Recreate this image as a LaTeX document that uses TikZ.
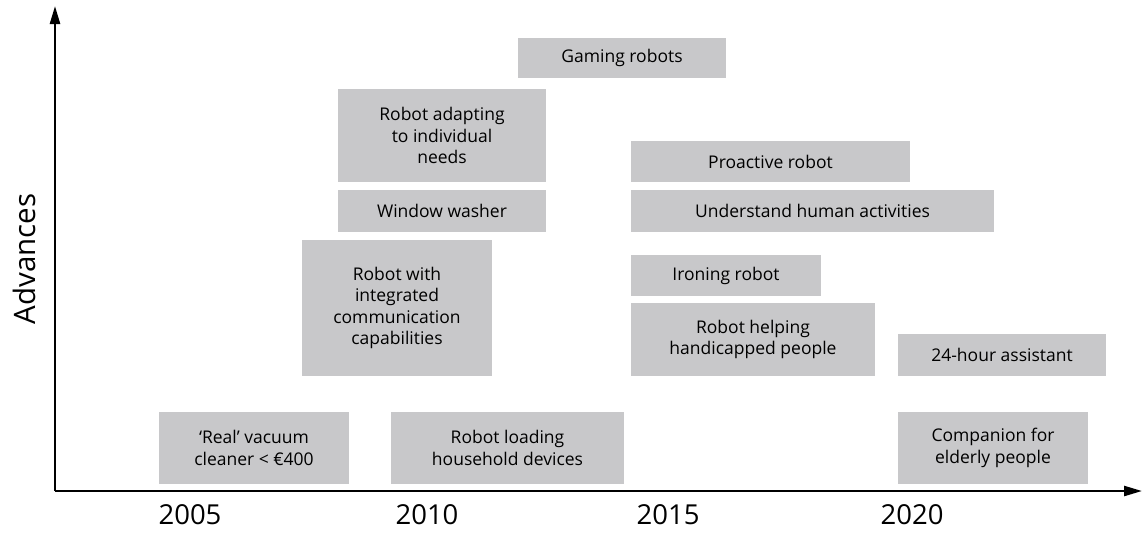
\documentclass[tikz,border=0pt]{standalone}
\usepackage{fontspec}
\setmainfont{Open Sans}
\usetikzlibrary{arrows.meta}
\definecolor{boxgray}{RGB}{200,200,202}
\tikzset{
    advbox/.style={fill=boxgray, inner sep=0pt, align=center, font=\fontsize{17.5}{21.5}\selectfont},
    axisline/.style={line width=2.4pt, -{Triangle[length=18pt, width=10pt]}},
    yearlabel/.style={anchor=base, font=\fontsize{27.5}{30}\selectfont}
}
\begin{document}
\begin{tikzpicture}[x=1pt, y=-1pt]
        \useasboundingbox (0, 0) rectangle (1142, 536);

        % axes
        \coordinate (origin) at (55, 491);
        \coordinate (ytop) at (55, 6);
        \coordinate (xend) at (1142, 491);
        \draw[axisline] (origin) -- (ytop);
        \draw[axisline] (origin) -- (xend);

        \node[rotate=90, font=\fontsize{29.5}{34}\selectfont] (advances) at (24, 259) {Advances};

        % years
        \node[yearlabel] (y2005) at (190, 524) {2005};
        \node[yearlabel] (y2010) at (427, 524) {2010};
        \node[yearlabel] (y2015) at (668, 524) {2015};
        \node[yearlabel] (y2020) at (912, 524) {2020};

        % advances up to 2015
        \node[advbox, minimum width=190, minimum height=72] (vacuum) at (254, 448) {‘Real’ vacuum\\cleaner < €400};
        \node[advbox, minimum width=233, minimum height=72] (loading) at (507.5, 448) {Robot loading\\household devices};
        \node[advbox, minimum width=190, minimum height=136] (integrated) at (397, 308) {Robot with\\integrated\\communication\\capabilities};
        \node[advbox, minimum width=208, minimum height=42] (window) at (442, 211) {Window washer};
        \node[advbox, minimum width=208, minimum height=93] (adapting) at (442, 135.5) {Robot adapting\\to individual\\needs};
        \node[advbox, minimum width=208, minimum height=40] (gaming) at (622, 58) {Gaming robots};

        % advances after 2015
        \node[advbox, minimum width=279, minimum height=41] (proactive) at (770.5, 161.5) {Proactive robot};
        \node[advbox, minimum width=363, minimum height=42] (understand) at (812.5, 211) {Understand human activities};
        \node[advbox, minimum width=190, minimum height=41] (ironing) at (726, 275.5) {Ironing robot};
        \node[advbox, minimum width=244, minimum height=73] (helping) at (753, 339.5) {Robot helping\\handicapped people};
        \node[advbox, minimum width=208, minimum height=42] (assistant) at (1002, 355) {24-hour assistant};
        \node[advbox, minimum width=190, minimum height=72] (companion) at (993, 448) {Companion for\\elderly people};
    \end{tikzpicture}
\end{document}
